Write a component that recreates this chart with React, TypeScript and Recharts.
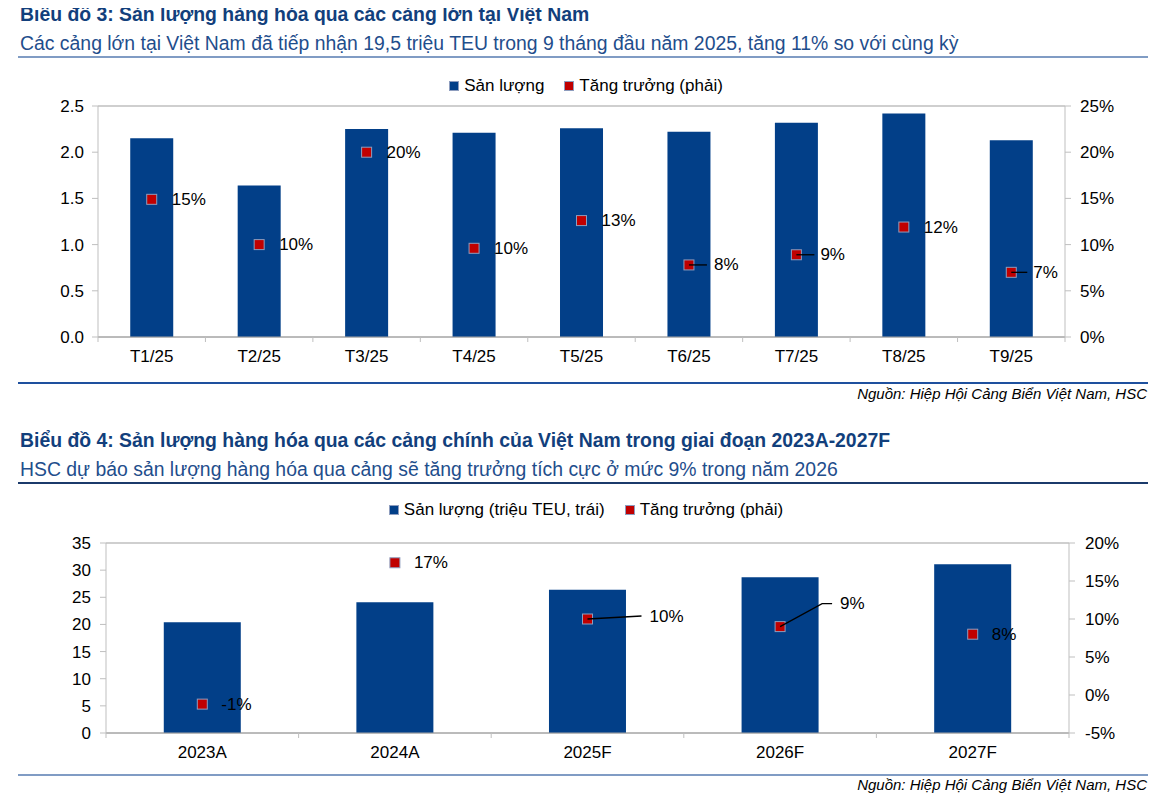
import React from 'react';
import { ComposedChart, Bar, Line, XAxis, YAxis, CartesianGrid, LabelList } from 'recharts';

// Biểu đồ 3
const months = ['T1/25', 'T2/25', 'T3/25', 'T4/25', 'T5/25', 'T6/25', 'T7/25', 'T8/25', 'T9/25'];
const monthlyVolume = [2.15, 1.64, 2.25, 2.21, 2.26, 2.22, 2.32, 2.42, 2.13];
const monthlyGrowth = [14.9, 10.0, 20.0, 9.6, 12.6, 7.8, 8.9, 11.9, 7.0];
const volumeTicks1 = [0, 0.5, 1.0, 1.5, 2.0, 2.5];
const growthTicks1 = [0, 5, 10, 15, 20, 25];

// Biểu đồ 4
const years = ['2023A', '2024A', '2025F', '2026F', '2027F'];
const yearlyVolume = [20.4, 24.1, 26.4, 28.7, 31.1];
const yearlyGrowth = [-1.2, 17.4, 10.0, 9.0, 8.0];
const volumeTicks2 = [0, 5, 10, 15, 20, 25, 30, 35];
const growthTicks2 = [-5, 0, 5, 10, 15, 20];

const BLUE = '#023F88';
const RED = '#C00000';
const GRID = '#BFBFBF';
const FONT = '"Liberation Sans", Arial, sans-serif';

const data1 = months.map((m, i) => ({ name: m, volume: monthlyVolume[i], growth: monthlyGrowth[i] }));
const data2 = years.map((y, i) => ({ name: y, volume: yearlyVolume[i], growth: yearlyGrowth[i] }));

type LabelPlace = { dx: number; dy: number; leader?: number[][] };

// label placement for the growth markers (by index), default is to the right
const place1: Record<number, LabelPlace> = {
  5: { dx: 25, dy: 0, leader: [[0, 0], [18, 0]] },
  6: { dx: 24, dy: 0, leader: [[0, 0], [18, 0]] },
  8: { dx: 22, dy: 0, leader: [[0, 0], [16, 0]] },
};
const place2: Record<number, LabelPlace> = {
  2: { dx: 62, dy: -3, leader: [[0, 0], [54, -3]] },
  3: { dx: 60, dy: -23, leader: [[0, 0], [42, -23], [52, -23]] },
};

function SquareDot(props: any) {
  const { cx, cy } = props;
  if (cx == null || cy == null) return null;
  return <rect x={cx - 5} y={cy - 5} width={10} height={10} fill={RED} stroke="#8E9DBE" strokeWidth={1} />;
}

function makeLabel(places: Record<number, LabelPlace>, defDx: number) {
  return (props: any) => {
    const { x, y, value, index } = props;
    const p = places[index] ?? { dx: defDx, dy: 0 };
    return (
      <g>
        {p.leader && (
          <polyline
            points={p.leader.map(([a, b]) => `${x + a},${y + b}`).join(' ')}
            fill="none"
            stroke="#000"
            strokeWidth={1.3}
          />
        )}
        <text x={x + p.dx} y={y + p.dy} dominantBaseline="central" fontSize={17} fontFamily={FONT} fill="#000">
          {Math.round(value)}%
        </text>
      </g>
    );
  };
}

function CatTick(props: any) {
  const { x, y, payload, index, visibleTicksCount, width } = props;
  const band = width && visibleTicksCount ? width / visibleTicksCount : 0;
  const axisY = y - 13;
  return (
    <g>
      {band > 0 && <line x1={x - band / 2} x2={x - band / 2} y1={axisY} y2={axisY + 5} stroke={GRID} />}
      {band > 0 && index === visibleTicksCount - 1 && (
        <line x1={x + band / 2} x2={x + band / 2} y1={axisY} y2={axisY + 5} stroke={GRID} />
      )}
      <text x={x} y={y} dy="0.71em" textAnchor="middle" fontSize={17} fontFamily={FONT} fill="#000">
        {payload.value}
      </text>
    </g>
  );
}

function LegendRow({ top, items }: { top: number; items: { label: string; color: string }[] }) {
  return (
    <div
      style={{
        position: 'absolute',
        left: 0,
        width: 1172,
        top,
        display: 'flex',
        justifyContent: 'center',
        gap: 20,
        fontSize: 17,
        lineHeight: '20px',
      }}
    >
      {items.map((it) => (
        <div key={it.label} style={{ display: 'flex', alignItems: 'center', gap: 5 }}>
          <span style={{ width: 8, height: 8, background: it.color, border: '1px solid #8E9DBE', display: 'inline-block' }} />
          <span>{it.label}</span>
        </div>
      ))}
    </div>
  );
}

const tickStyle = { fontSize: 17, fontFamily: FONT, fill: '#000' };
const titleStyle = { position: 'absolute' as const, left: 20, fontSize: 19.4, fontWeight: 'bold' as const, color: '#123F7C', lineHeight: '22px', whiteSpace: 'nowrap' as const };
const subStyle = { position: 'absolute' as const, left: 20, fontSize: 19.4, color: '#1F4E8C', lineHeight: '22px', whiteSpace: 'nowrap' as const };
const sourceStyle = { position: 'absolute' as const, right: 19, fontSize: 15, fontStyle: 'italic' as const, lineHeight: '18px', whiteSpace: 'nowrap' as const };

export default function App() {
  return (
    <div style={{ position: 'relative', width: 1166, height: 798, margin: '-8px 0 0 -8px', fontFamily: FONT, color: '#000' }}>
      {/* chart 3 heading */}
      <div style={{ ...titleStyle, top: 3 }}>Biểu đồ 3: Sản lượng hàng hóa qua các cảng lớn tại Việt Nam</div>
      <div style={{ ...subStyle, top: 32 }}>
        Các cảng lớn tại Việt Nam đã tiếp nhận 19,5 triệu TEU trong 9 tháng đầu năm 2025, tăng 11% so với cùng kỳ
      </div>
      <div style={{ position: 'absolute', left: 18, top: 56, width: 1130, height: 2, background: '#809CC4' }} />
      <LegendRow
        top={76}
        items={[
          { label: 'Sản lượng', color: BLUE },
          { label: 'Tăng trưởng (phải)', color: RED },
        ]}
      />
      <div style={{ position: 'absolute', left: 8, top: 60 }}>
        <ComposedChart width={1150} height={320} data={data1} margin={{ top: 46, right: 33, bottom: 13, left: 0 }} barCategoryGap="30%">
          <CartesianGrid vertical={false} stroke={GRID} strokeWidth={1.5} />
          <XAxis dataKey="name" tick={<CatTick />} tickLine={false} tickSize={6} tickMargin={7} height={30} stroke="#A6A6A6" interval={0} />
          <YAxis yAxisId="left" domain={[0, 2.5]} ticks={volumeTicks1} tickFormatter={(v) => v.toFixed(1)} width={90} tick={tickStyle} stroke={GRID} tickSize={6} tickMargin={8} />
          <YAxis yAxisId="right" orientation="right" domain={[0, 25]} ticks={growthTicks1} tickFormatter={(v) => `${v}%`} width={60} tick={tickStyle} stroke={GRID} tickSize={6} tickMargin={9} />
          <Bar yAxisId="left" dataKey="volume" fill={BLUE} isAnimationActive={false} />
          <Line yAxisId="right" dataKey="growth" stroke="none" dot={<SquareDot />} activeDot={false} isAnimationActive={false}>
            <LabelList dataKey="growth" content={makeLabel(place1, 20)} />
          </Line>
        </ComposedChart>
      </div>
      <div style={{ position: 'absolute', left: 18, top: 382, width: 1130, height: 2, background: '#1E509E' }} />
      <div style={{ ...sourceStyle, top: 385 }}>Nguồn: Hiệp Hội Cảng Biển Việt Nam, HSC</div>

      {/* chart 4 heading */}
      <div style={{ ...titleStyle, top: 429 }}>
        Biểu đồ 4: Sản lượng hàng hóa qua các cảng chính của Việt Nam trong giai đoạn 2023A-2027F
      </div>
      <div style={{ ...subStyle, top: 458 }}>
        HSC dự báo sản lượng hàng hóa qua cảng sẽ tăng trưởng tích cực ở mức 9% trong năm 2026
      </div>
      <div style={{ position: 'absolute', left: 18, top: 482, width: 1130, height: 2, background: '#1B3A6B' }} />
      <LegendRow
        top={500}
        items={[
          { label: 'Sản lượng (triệu TEU, trái)', color: BLUE },
          { label: 'Tăng trưởng (phải)', color: RED },
        ]}
      />
      <div style={{ position: 'absolute', left: 8, top: 490 }}>
        <ComposedChart width={1150} height={278} data={data2} margin={{ top: 53, right: 29, bottom: 5, left: 0 }} barCategoryGap="30%">
          <CartesianGrid vertical={false} stroke={GRID} strokeWidth={1.5} />
          <XAxis dataKey="name" tick={<CatTick />} tickLine={false} tickSize={6} tickMargin={7} height={30} stroke="#A6A6A6" interval={0} />
          <YAxis yAxisId="left" domain={[0, 35]} ticks={volumeTicks2} width={98} tick={tickStyle} stroke={GRID} tickSize={6} tickMargin={9} />
          <YAxis yAxisId="right" orientation="right" domain={[-5, 20]} ticks={growthTicks2} tickFormatter={(v) => `${v}%`} width={60} tick={tickStyle} stroke={GRID} tickSize={6} tickMargin={10} />
          <Bar yAxisId="left" dataKey="volume" fill={BLUE} isAnimationActive={false} />
          <Line yAxisId="right" dataKey="growth" stroke="none" dot={<SquareDot />} activeDot={false} isAnimationActive={false}>
            <LabelList dataKey="growth" content={makeLabel(place2, 19)} />
          </Line>
        </ComposedChart>
      </div>
      <div style={{ position: 'absolute', left: 18, top: 774, width: 1130, height: 2, background: '#809CC4' }} />
      <div style={{ ...sourceStyle, top: 776 }}>Nguồn: Hiệp Hội Cảng Biển Việt Nam, HSC</div>
    </div>
  );
}
